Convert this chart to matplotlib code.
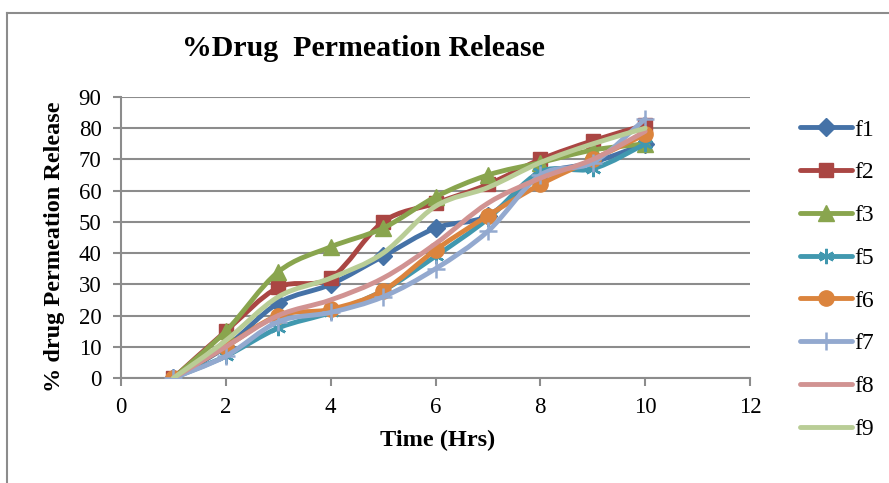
import numpy as np
import matplotlib
matplotlib.use("Agg")
import matplotlib.pyplot as plt
from matplotlib.path import Path
from matplotlib.patches import PathPatch
from matplotlib.lines import Line2D

plt.rcParams['font.family'] = ['Liberation Serif', 'DejaVu Serif']

hours = [1, 2, 3, 4, 5, 6, 7, 8, 9, 10]
f1 = [0, 10, 24, 30, 39, 48, 52, 65, 69, 75]
f2 = [0, 15, 29, 32, 50, 56, 62, 70, 76, 81]
f3 = [0, 15, 34, 42, 48, 58, 65, 69, 73, 75]
f5 = [0, 7, 16, 21, 28, 39, 51, 66, 67, 75]
f6 = [0, 10, 20, 22, 28, 41, 52, 62, 70, 78]
f7 = [0, 7, 18, 21, 26, 35, 47, 65, 69, 83]
f8 = [0, 10, 20, 25, 32, 43, 56, 64, 70, 79]
f9 = [0, 12, 26, 32, 40, 55, 61, 69, 75, 80]

names = ['f1', 'f2', 'f3', 'f5', 'f6', 'f7', 'f8', 'f9']
series = [f1, f2, f3, f5, f6, f7, f8, f9]
colors = ['#4572A7', '#AA4643', '#89A54E', '#4198AF', '#DB843D', '#93A9CF', '#D19392', '#B9CD96']
markers = ['D', 's', '^', (6, 2, 0), 'o', '+', None, None]
msizes = [9, 10, 11, 11, 11, 13, 0, 0]


def smooth_path(x, y):
    # excel style smoothed line: catmull-rom segments as cubic beziers
    p = np.column_stack([x, y]).astype(float)
    pp = np.vstack([p[0], p, p[-1]])
    verts = [p[0]]
    codes = [Path.MOVETO]
    for i in range(1, len(pp) - 2):
        c1 = pp[i] + (pp[i + 1] - pp[i - 1]) / 6.0
        c2 = pp[i + 1] - (pp[i + 2] - pp[i]) / 6.0
        verts += [c1, c2, pp[i + 1]]
        codes += [Path.CURVE4] * 3
    return Path(verts, codes)


fig = plt.figure(figsize=(8.89, 4.83), dpi=100)
ax = fig.add_axes([121 / 889, 1 - 378 / 483, 629 / 889, 281 / 483])

handles = []
for i in range(len(series)):
    ew = 1.8 if markers[i] in ['+', (6, 2, 0)] else 1
    ax.add_patch(PathPatch(smooth_path(hours, series[i]), facecolor='none',
                           edgecolor=colors[i], lw=3.5, capstyle='round',
                           joinstyle='round', zorder=2 + i))
    if markers[i] is not None:
        ax.plot(hours, series[i], linestyle='none', marker=markers[i],
                ms=msizes[i], color=colors[i], mec=colors[i], mew=ew, zorder=2 + i)
    handles.append(Line2D([], [], color=colors[i], lw=3.5, solid_capstyle='round',
                          marker=markers[i], ms=msizes[i], mec=colors[i], mew=ew))

ax.set_xlim(0, 12)
ax.set_ylim(0, 90)
ax.set_xticks(range(0, 13, 2))
ax.set_yticks(range(0, 91, 10))
ax.yaxis.grid(True, color='#8c8c8c', lw=1.5)
ax.set_axisbelow(True)
for s in ['top', 'right']:
    ax.spines[s].set_visible(False)
for s in ['left', 'bottom']:
    ax.spines[s].set_color('#8c8c8c')
    ax.spines[s].set_linewidth(1.5)
ax.tick_params(direction='out', length=6, width=1.5, color='#8c8c8c',
               labelsize=16.5, pad=8)

ax.set_xlabel('Time (Hrs)', fontsize=17.5, fontweight='bold')
ax.xaxis.set_label_coords((438 - 121) / 629, (378 - 430) / 281)
ax.set_ylabel('% drug Permeation Release', fontsize=17.5, fontweight='bold')
ax.yaxis.set_label_coords((65 - 121) / 629, (378 - 247) / 281)
fig.text(363 / 889, 1 - 56 / 483, '%Drug  Permeation Release', fontsize=21.5,
         fontweight='bold', ha='center', va='baseline')

fig.legend(handles, names, loc='upper left', bbox_to_anchor=(800 / 889, 1 - 119 / 483),
           frameon=False, fontsize=17, handlelength=2.2, labelspacing=0.9,
           handletextpad=0.1, borderpad=0, borderaxespad=0)

# outer chart frame
fig.add_artist(Line2D([7 / 889, 1], [1 - 13 / 483, 1 - 13 / 483], color='#8c8c8c', lw=1.5))
fig.add_artist(Line2D([7 / 889, 7 / 889], [0, 1 - 13 / 483], color='#8c8c8c', lw=1.5))

fig.savefig('out.png', dpi=100)
